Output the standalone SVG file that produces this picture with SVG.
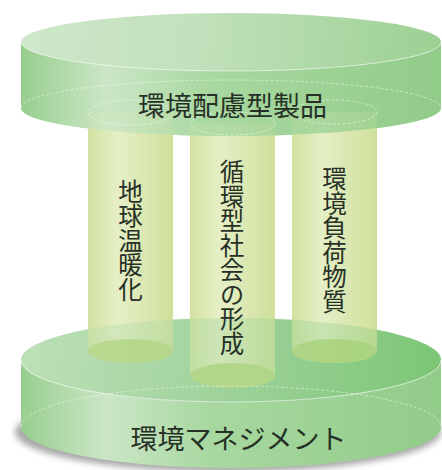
<svg xmlns="http://www.w3.org/2000/svg" width="442" height="470" viewBox="0 0 442 470">
<defs>
<style>
.txt{font-family:"Noto Sans CJK JP","Noto Sans CJK SC",sans-serif;fill:#263026}
.h{font-size:27px}
.v{font-size:24.5px;writing-mode:vertical-rl}
.dash{fill:none;stroke:#ffffff;stroke-opacity:.6;stroke-width:.8;stroke-dasharray:3 2}
.edge{fill:none;stroke:#ffffff;stroke-opacity:.55;stroke-width:1}
.pbody{fill:url(#pillar)}
.pcap{fill:#bcd87f}
</style>
<linearGradient id="topFace" gradientUnits="userSpaceOnUse" x1="21" y1="20" x2="441" y2="64">
<stop offset="0" stop-color="#cfe7cb"/><stop offset="0.45" stop-color="#c0e0ba"/><stop offset="1" stop-color="#9bd092"/>
</linearGradient>
<linearGradient id="side" gradientUnits="userSpaceOnUse" x1="21" y1="0" x2="441" y2="0">
<stop offset="0" stop-color="#97ce8e"/><stop offset="0.2" stop-color="#cbe6c6"/><stop offset="0.45" stop-color="#a8d8a0"/><stop offset="1" stop-color="#92cc89"/>
</linearGradient>
<linearGradient id="botFace" gradientUnits="userSpaceOnUse" x1="21" y1="340" x2="441" y2="380">
<stop offset="0" stop-color="#bde0b8"/><stop offset="0.5" stop-color="#9ed29a"/><stop offset="1" stop-color="#7cc675"/>
</linearGradient>
<linearGradient id="pillar" x1="0" y1="0" x2="1" y2="0">
<stop offset="0" stop-color="#d2e2a0"/><stop offset="0.35" stop-color="#e5efc6"/><stop offset="1" stop-color="#cfe09a"/>
</linearGradient>
<filter id="blur" x="-10%" y="-40%" width="120%" height="180%"><feGaussianBlur stdDeviation="3"/></filter>
</defs>

<g id="management">
<ellipse cx="228" cy="432" rx="213" ry="40" fill="#a8a8a8" filter="url(#blur)"/>
<path d="M21,360 L21,427 A210,41 0 0 0 441,427 L441,360 A210,42 0 0 1 21,360 Z" fill="url(#side)"/>
<ellipse cx="231" cy="360" rx="210" ry="42" fill="url(#botFace)"/>
</g>

<g id="product-base">
<path d="M21,42 L21,108 A210,28 0 0 0 441,108 L441,42 A210,29 0 0 1 21,42 Z" fill="url(#side)"/>
<ellipse cx="231" cy="42" rx="210" ry="29" fill="url(#topFace)"/>
</g>

<g id="pillar-warming">
<path class="pbody" d="M88,112 L88,351 A42.5,12 0 0 0 173,351 L173,112 Z"/>
<ellipse class="pcap" cx="130.5" cy="351" rx="42.5" ry="12"/>
</g>
<g id="pillar-recycling">
<path class="pbody" d="M190,123.5 L190,375.5 A42.5,12.5 0 0 0 275,375.5 L275,123.5 Z"/>
<ellipse class="pcap" cx="232.5" cy="375.5" rx="42.5" ry="12.5"/>
</g>
<g id="pillar-substances">
<path class="pbody" d="M292,112 L292,351 A42.5,12 0 0 0 377,351 L377,112 Z"/>
<ellipse class="pcap" cx="334.5" cy="351" rx="42.5" ry="12"/>
</g>

<g id="overlays">
<ellipse cx="231" cy="360" rx="210" ry="42" fill="url(#botFace)" fill-opacity="0.35"/>
<path d="M21,42 L21,108 A210,28 0 0 0 441,108 L441,42 A210,29 0 0 1 21,42 Z" fill="url(#side)" fill-opacity="0.82"/>
</g>

<g id="lines">
<path class="edge" d="M21,42 A210,29 0 0 0 441,42"/>
<path class="dash" d="M21,108 A210,28 0 0 1 441,108"/>
<ellipse class="dash" cx="130.5" cy="112.5" rx="42.5" ry="12.5"/>
<ellipse class="dash" cx="232.5" cy="123.5" rx="42.5" ry="11.5"/>
<ellipse class="dash" cx="334.5" cy="112" rx="42.5" ry="12"/>
<path class="edge" d="M21,360 A210,42 0 0 0 441,360"/>
<path class="dash" d="M21,427 A210,41 0 0 1 441,427"/>
</g>

<g id="labels">
<text class="txt h" x="232.5" y="116" text-anchor="middle">環境配慮型製品</text>
<text class="txt v" x="130.5" y="240.5" text-anchor="middle">地球温暖化</text>
<text class="txt v" x="232" y="257.5" text-anchor="middle">循環型社会の形成</text>
<text class="txt v" x="334.5" y="240" text-anchor="middle">環境負荷物質</text>
<text class="txt h" x="238.5" y="449" text-anchor="middle">環境マネジメント</text>
</g>
</svg>
